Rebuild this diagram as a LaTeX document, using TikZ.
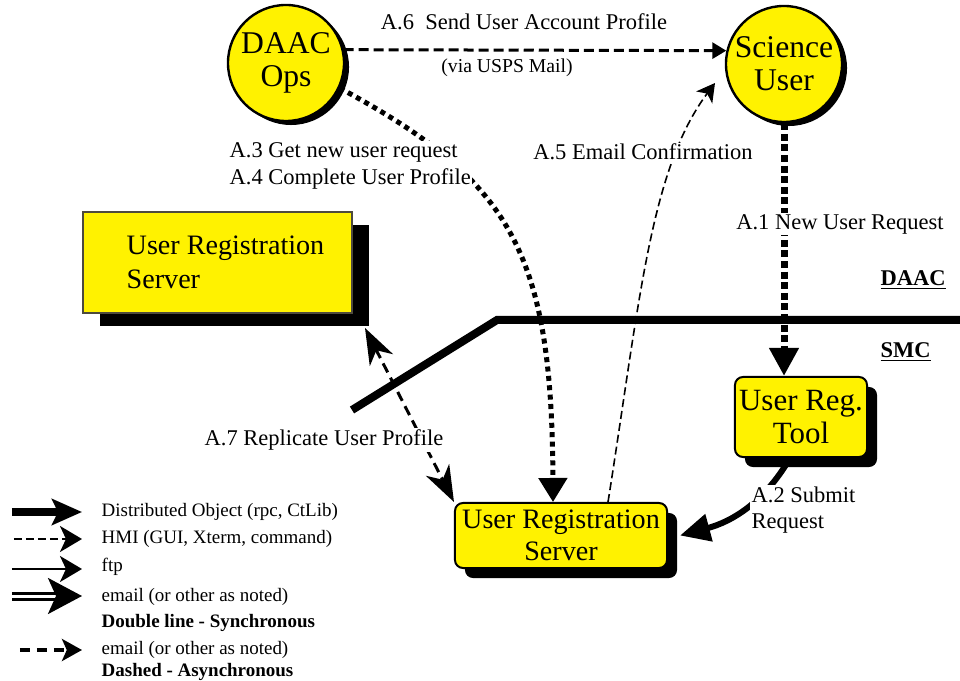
\documentclass[tikz,border=0pt]{standalone}
\usepackage{fontspec}
\setmainfont{Liberation Serif}
\usetikzlibrary{arrows.meta,shadows}

\tikzset{
  blob/.style={circle, draw, line width=0.6mm, fill=yellow, minimum size=29mm,
    inner sep=0pt, align=center, font=\fontsize{22.5}{23.5}\selectfont,
    drop shadow={shadow xshift=1.25mm, shadow yshift=-1mm, fill=black, opacity=1}},
  server/.style={rectangle, draw=black!80!yellow, line width=0.3mm, fill=yellow,
    inner sep=1pt, align=left, font=\fontsize{20}{24}\selectfont,
    drop shadow={shadow xshift=4.25mm, shadow yshift=-3.25mm, fill=black, opacity=1}},
  box/.style={rectangle, rounded corners=2mm, draw, line width=0.5mm, fill=yellow,
    inner sep=1pt, align=center,
    drop shadow={shadow xshift=2.5mm, shadow yshift=-2.5mm, fill=black, opacity=1}},
  lbl/.style={font=\fontsize{16}{19}\selectfont, inner sep=1pt},
  lgd/.style={font=\fontsize{13.5}{16}\selectfont, anchor=west, inner sep=1pt},
  % flows in the diagram
  bigdot/.style={line width=1.75mm, dash pattern=on 1.75mm off 0.9mm,
    -{Triangle[length=7mm,width=7mm]}},
  meddot/.style={line width=1.25mm, dash pattern=on 1.25mm off 1.1mm,
    -{Triangle[length=6mm,width=7mm]}},
  dobj/.style={line width=1.75mm, -{Stealth[length=7.5mm,width=6.5mm,inset=1.5mm]}},
  hmi/.style={line width=0.6mm, dash pattern=on 2mm off 1mm,
    -{Stealth[length=5.5mm,width=6.5mm,inset=1.5mm]}},
  ftp/.style={line width=0.6mm, -{Stealth[length=5.5mm,width=6.5mm,inset=1.5mm]}},
  email/.style={double, double distance=0.75mm, line width=0.75mm,
    -{Stealth[length=8.5mm,width=9mm,inset=2mm]}},
  async/.style={line width=0.9mm, dash pattern=on 2.5mm off 1.75mm,
    -{Stealth[length=5mm,width=5.5mm,inset=1.2mm]}}
}

\begin{document}
\begin{tikzpicture}[x=0.025cm, y=-0.025cm]
\useasboundingbox (0,0) rectangle (960,681);

% DAAC / SMC boundary
\draw[line width=2mm] (352,410) -- (497,320) -- (960,320);
\node[lbl, anchor=west, font=\fontsize{16}{19}\selectfont\bfseries] (daac) at (879,280) {\underline{DAAC}};
\node[lbl, anchor=west, font=\fontsize{16}{19}\selectfont\bfseries] (smc) at (879,352) {\underline{SMC}};

% main boxes
\node[blob] (ops) at (286,63) {DAAC\\Ops};
\node[blob] (sci) at (784,64) {Science\\User};
\node[server, minimum width=67.25mm, minimum height=25.25mm] (urs) at (217.5,262.5)
  {\hspace*{4mm}User Registration\\\hspace*{4mm}Server};
\node[box, minimum width=33mm, minimum height=20mm, font=\fontsize{22}{24}\selectfont] (tool) at (801,417) {User Reg.\\Tool};
\node[box, minimum width=53mm, minimum height=16.25mm, font=\fontsize{20}{22.8}\selectfont] (srv) at (561,535.5) {User Registration\\Server};

\coordinate (a5end) at (715,83);
\coordinate (a7top) at (365,328);

% flows
\draw[async, line width=0.75mm, dash pattern=on 2.5mm off 1.25mm,
  -{Triangle[length=3.5mm,width=4mm]}] (ops.13) -- (sci.167);
\draw[bigdot] (sci.south) -- (sci.south |- tool.north);
\draw[dobj, line width=1.5mm, -{Triangle[length=7.5mm,width=6.75mm]}]
  ([xshift=-2.75mm]tool.south) to[out=-120,in=15] ([xshift=3mm]srv.east);
\draw[meddot] (ops.-25) .. controls (510,180) and (552,250) .. ([xshift=-2mm]srv.north);
\draw[line width=0.4mm, dash pattern=on 2mm off 1mm,
  -{Stealth[length=4.5mm,width=5mm,inset=1.2mm]}]
  ([xshift=11.75mm]srv.north) .. controls (640,300) and (650,170) .. (a5end);
\draw[line width=0.75mm, dash pattern=on 2.5mm off 1.5mm,
  {Stealth[length=9mm,width=6.5mm,inset=2.75mm]}-{Stealth[length=9mm,width=6.5mm,inset=2.75mm]}]
  (a7top) -- (srv.north west);

% flow labels
\node[lbl] (l6) at (524,22) {A.6\ \ Send User Account Profile};
\node[lbl, font=\fontsize{14}{16}\selectfont] (l6b) at (507,68) {(via USPS Mail)};
\node[lbl, fill=white, anchor=west, align=left, font=\fontsize{16}{19}\selectfont] (l34) at (228,166)
  {A.3 Get new user request\\A.4 Complete User Profile};
\node[lbl, fill=white] (l5) at (643,152) {A.5 Email Confirmation};
\node[lbl, fill=white] (l1) at (840,224) {A.1 New User Request};
\node[lbl, fill=white, anchor=west, align=left, font=\fontsize{16}{18.5}\selectfont] (l2) at (750,510)
  {A.2 Submit\\Request};
\node[lbl, fill=white] (l7) at (324,440) {A.7 Replicate User Profile};

% legend
\node[lgd] (lg1) at (100,512) {Distributed Object (rpc, CtLib)};
\node[lgd] (lg2) at (100,539) {HMI (GUI, Xterm, command)};
\node[lgd] (lg3) at (100,567) {ftp};
\node[lgd] (lg4) at (100,597) {email (or other as noted)};
\node[lgd, font=\fontsize{13.5}{16}\selectfont\bfseries] (lg4b) at (100,623) {Double line - Synchronous};
\node[lgd] (lg5) at (100,650) {email (or other as noted)};
\node[lgd, font=\fontsize{13.5}{16}\selectfont\bfseries] (lg5b) at (100,672) {Dashed - Asynchronous};
\draw[dobj] ([xshift=-22mm]lg1.west) -- ([xshift=-4.5mm]lg1.west);
\draw[hmi] ([xshift=-21.5mm]lg2.west) -- ([xshift=-4.5mm]lg2.west);
\draw[ftp] ([xshift=-22mm,yshift=-0.5mm]lg3.west) -- ([xshift=-4.5mm,yshift=-0.5mm]lg3.west);
\draw[email] ([xshift=-22mm,yshift=0.25mm]lg4.west) -- ([xshift=-4.5mm,yshift=0.25mm]lg4.west);
\draw[async] ([xshift=-20mm]lg5.west) -- ([xshift=-4.5mm]lg5.west);
\end{tikzpicture}
\end{document}
